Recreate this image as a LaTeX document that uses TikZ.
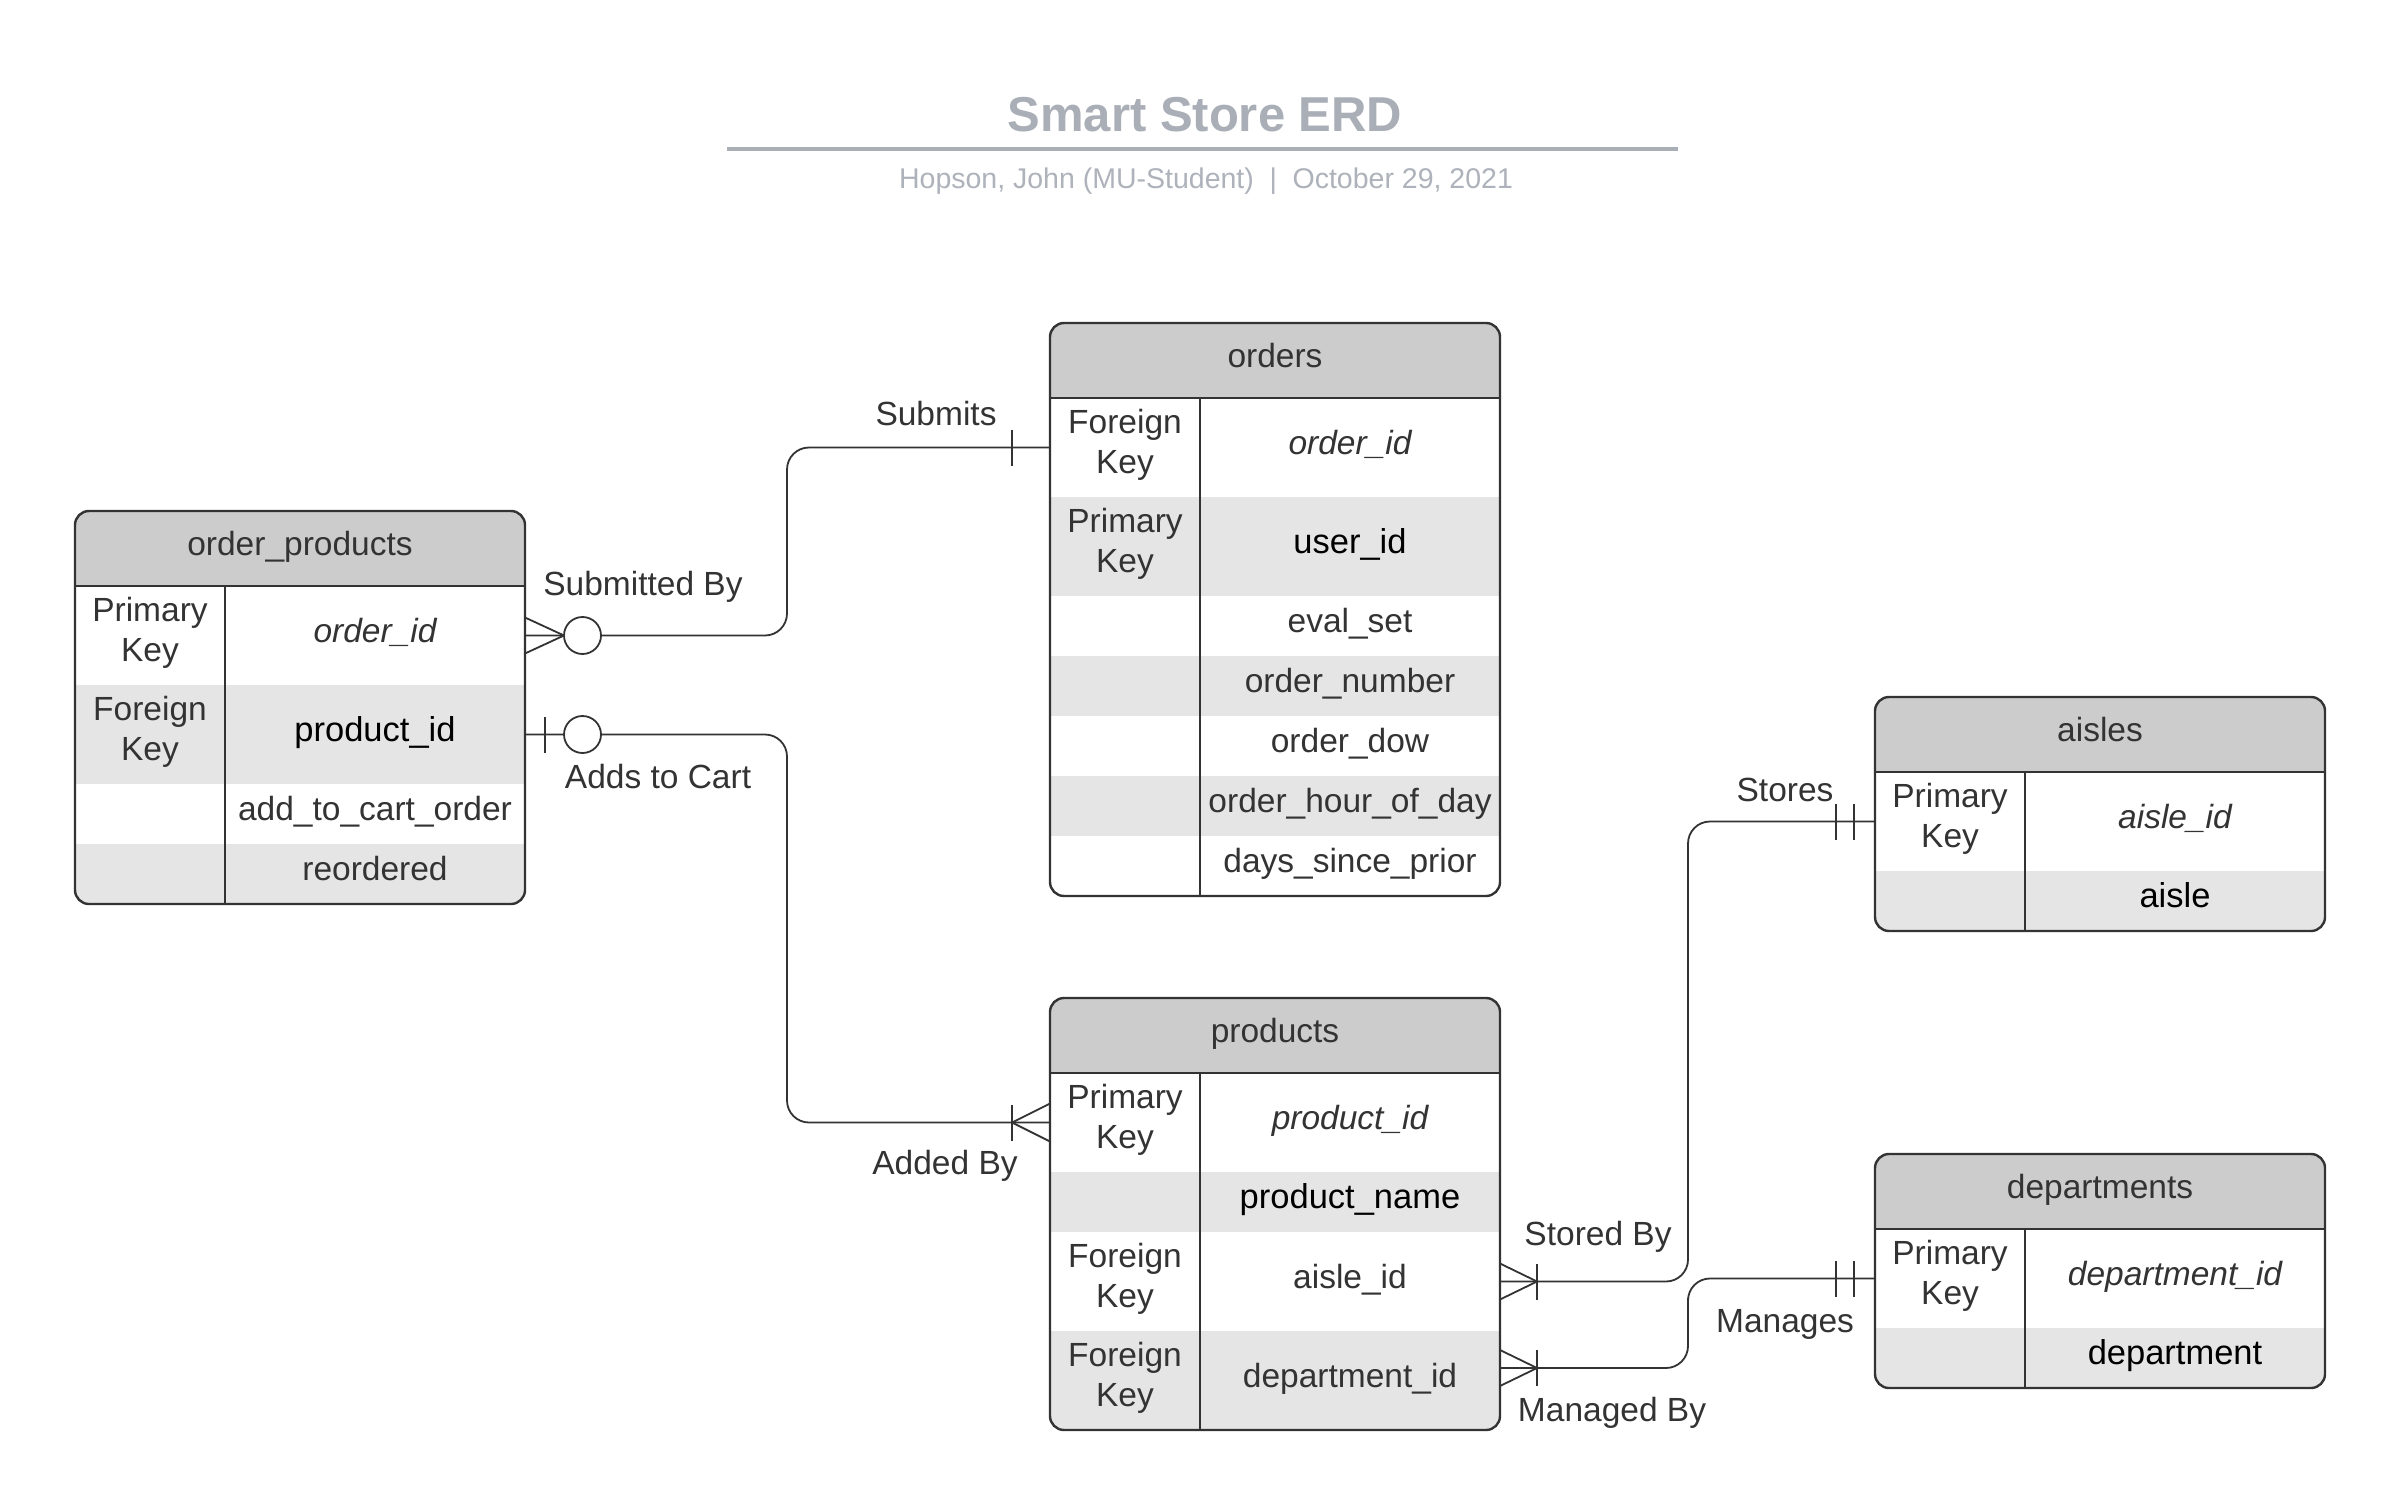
\documentclass[tikz,border=0pt]{standalone}
\usepackage{fontspec}
\setmainfont{Liberation Sans}
\usetikzlibrary{calc}
\definecolor{ink}{HTML}{333333}
\definecolor{hdrfill}{HTML}{CCCCCC}
\definecolor{rowalt}{HTML}{E5E5E5}
\definecolor{titlegray}{HTML}{A9AEB7}
\definecolor{subgray}{HTML}{AEB2BA}
\newcommand{\cellfont}{\fontsize{33.5}{40}\selectfont}
\newcommand{\boldval}{\fontsize{34.5}{40}\selectfont\color{black}}
\tikzset{
  cellbox/.style={inner sep=0pt, outer sep=0pt, draw=none, align=center, text=ink, font=\cellfont},
  onecell/.style={cellbox, text height=22pt, text depth=9pt},
  hdrcell/.style={onecell, fill=hdrfill, minimum width=450pt, minimum height=75pt},
  tblframe/.style={draw=ink, line width=2.4pt, rounded corners=14pt, inner sep=0pt, outer sep=0pt, minimum width=450pt},
  hdrline/.style={draw=ink, line width=2.4pt},
  colline/.style={draw=ink, line width=1.8pt},
  conn/.style={draw=ink, line width=1.8pt},
  lbl/.style={inner sep=0pt, text=ink, font=\cellfont, anchor=base},
}
% #1 prefix #2 id #3 left #4 top #5 height #6 fill #7 key #8 value
\newcommand{\erdrow}[8]{%
  \node[cellbox, fill=#6, minimum width=150pt, minimum height=#5pt] (#1-k#2) at (#3+75, #4+#5/2) {};
  \node[cellbox] (#1-t#2) at (#3+75, #4+#5/2-2.5) {#7};
  \node[onecell, fill=#6, minimum width=300pt, minimum height=#5pt] (#1-v#2) at (#3+300, #4+#5/2) {#8};}
% #1 name #2 left #3 top #4 bottom #5 title #6 rows
\newcommand{\erdtable}[6]{%
  \begin{scope}
    \clip[rounded corners=14pt] (#2,#3) rectangle (#2+450,#4);
    \node[hdrcell] (#1-h) at (#2+225, #3+37.5) {#5};
    #6
  \end{scope}
  \node[tblframe, minimum height={#4pt-#3pt}] (#1) at (#2+225, #3/2+#4/2) {};
  \draw[hdrline] (#2,#3+75) -- (#2+450,#3+75);
  \draw[colline] (#2+150,#3+75) -- (#2+150,#4);
}
\begin{document}
\begin{tikzpicture}[x=1pt,y=-1pt]
\useasboundingbox (0,0) rectangle (2400,1511);
\fill[white] (0,0) rectangle (2400,1511);

% title
\node[anchor=base, inner sep=0pt, text=titlegray, font=\fontsize{49}{55}\selectfont\bfseries] (title) at (1205,132) {Smart Store ERD};
\coordinate (tl1) at (727,149);
\coordinate (tl2) at (1678,149);
\draw[titlegray, line width=4pt] (tl1) -- (tl2);
\node[anchor=base, inner sep=0pt, text=subgray, font=\fontsize{28.5}{32}\selectfont] (subtitle) at (1206,188.5) {Hopson, John (MU-Student)\hspace{0.55em}|\hspace{0.55em}October 29, 2021};

% tables
\erdtable{op}{75}{511}{904}{order\_products}{%
  \erdrow{op}{1}{75}{586}{99}{white}{Primary\\Key}{\itshape order\_id}
  \erdrow{op}{2}{75}{685}{99}{rowalt}{Foreign\\Key}{\boldval product\_id}
  \erdrow{op}{3}{75}{784}{60}{white}{}{add\_to\_cart\_order}
  \erdrow{op}{4}{75}{844}{60}{rowalt}{}{reordered}
}
\erdtable{orders}{1050}{323}{896}{orders}{%
  \erdrow{or}{1}{1050}{398}{99}{white}{Foreign\\Key}{\itshape order\_id}
  \erdrow{or}{2}{1050}{497}{99}{rowalt}{Primary\\Key}{\boldval user\_id}
  \erdrow{or}{3}{1050}{596}{60}{white}{}{eval\_set}
  \erdrow{or}{4}{1050}{656}{60}{rowalt}{}{order\_number}
  \erdrow{or}{5}{1050}{716}{60}{white}{}{order\_dow}
  \erdrow{or}{6}{1050}{776}{60}{rowalt}{}{order\_hour\_of\_day}
  \erdrow{or}{7}{1050}{836}{60}{white}{}{days\_since\_prior}
}
\erdtable{products}{1050}{998}{1430}{products}{%
  \erdrow{pr}{1}{1050}{1073}{99}{white}{Primary\\Key}{\itshape product\_id}
  \erdrow{pr}{2}{1050}{1172}{60}{rowalt}{}{\boldval product\_name}
  \erdrow{pr}{3}{1050}{1232}{99}{white}{Foreign\\Key}{aisle\_id}
  \erdrow{pr}{4}{1050}{1331}{99}{rowalt}{Foreign\\Key}{department\_id}
}
\erdtable{aisles}{1875}{697}{931}{aisles}{%
  \erdrow{ai}{1}{1875}{772}{99}{white}{Primary\\Key}{\itshape aisle\_id}
  \erdrow{ai}{2}{1875}{871}{60}{rowalt}{}{\boldval aisle}
}
\erdtable{departments}{1875}{1154}{1388}{departments}{%
  \erdrow{de}{1}{1875}{1229}{99}{white}{Primary\\Key}{\itshape department\_id}
  \erdrow{de}{2}{1875}{1328}{60}{rowalt}{}{\boldval department}
}

% connection points
\coordinate (e1) at (op.east |- op-v1);
\coordinate (e2) at (orders.west |- or-k1);
\coordinate (e3) at (op.east |- op-v2);
\coordinate (e4) at (products.west |- pr-k1);
\coordinate (e5) at (products.east |- pr-v3);
\coordinate (e6) at (aisles.west |- ai-k1);
\coordinate (e7) at ($(products.east |- pr-v4)+(0,-12.5)$);
\coordinate (e8) at (departments.west |- de-k1);
\coordinate (busA) at (787,540);
\coordinate (busB) at (787,930);
\coordinate (busC) at (1688,1050);
\coordinate (busD) at (1688,1320);

% connectors
\draw[conn, rounded corners=22pt] (e1) -| (busA) |- (e2);
\draw[conn, rounded corners=22pt] (e3) -| (busB) |- (e4);
\draw[conn, rounded corners=22pt] (e5) -| (busC) |- (e6);
\draw[conn, rounded corners=22pt] (e7) -| (busD) |- (e8);

% ends
\draw[conn] ($(e1)+(0,-18)$) -- ($(e1)+(39,0)$) -- ($(e1)+(0,18)$);
\draw[conn, fill=white] ($(e1)+(57.5,0)$) circle[radius=18.5pt];
\draw[conn] ($(e2)+(-38,-18)$) -- ($(e2)+(-38,18)$);

\draw[conn] ($(e3)+(20,-18)$) -- ($(e3)+(20,18)$);
\draw[conn, fill=white] ($(e3)+(57.5,0)$) circle[radius=18.5pt];
\draw[conn] ($(e4)+(0,-19)$) -- ($(e4)+(-38,0)$) -- ($(e4)+(0,19)$);
\draw[conn] ($(e4)+(-38,-18)$) -- ($(e4)+(-38,18)$);

\draw[conn] ($(e5)+(0,-18)$) -- ($(e5)+(37,0)$) -- ($(e5)+(0,18)$);
\draw[conn] ($(e5)+(37,-18)$) -- ($(e5)+(37,18)$);
\draw[conn] ($(e6)+(-39,-18)$) -- ($(e6)+(-39,18)$);
\draw[conn] ($(e6)+(-21,-18)$) -- ($(e6)+(-21,18)$);

\draw[conn] ($(e7)+(0,-18)$) -- ($(e7)+(37,0)$) -- ($(e7)+(0,18)$);
\draw[conn] ($(e7)+(37,-18)$) -- ($(e7)+(37,18)$);
\draw[conn] ($(e8)+(-39,-18)$) -- ($(e8)+(-39,18)$);
\draw[conn] ($(e8)+(-21,-18)$) -- ($(e8)+(-21,18)$);

% labels
\node[lbl] (l-subby) at (643,595) {Submitted By};
\node[lbl] (l-sub) at (936,425) {Submits};
\node[lbl] (l-add) at (658,788) {Adds to Cart};
\node[lbl] (l-addby) at (945,1174) {Added By};
\node[lbl] (l-stores) at (1785,801) {Stores};
\node[lbl] (l-storby) at (1598,1245) {Stored By};
\node[lbl] (l-man) at (1785,1332) {Manages};
\node[lbl] (l-manby) at (1612,1421) {Managed By};
\end{tikzpicture}
\end{document}
